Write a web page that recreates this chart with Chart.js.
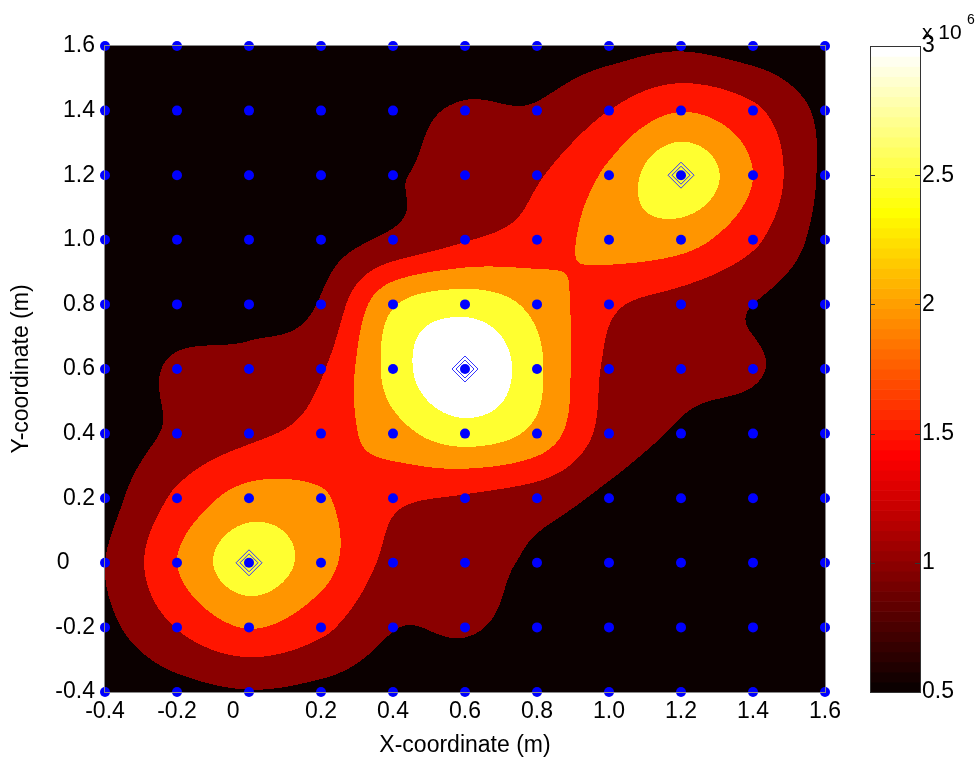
<!DOCTYPE html>
<html>
<head>
<meta charset="utf-8">
<script src="https://cdn.jsdelivr.net/npm/chart.js@4.4.0/dist/chart.umd.min.js"></script>
<style>
  body { margin: 0; background: #fff; }
</style>
</head>
<body>
<canvas id="grafico" width="977" height="762"></canvas>
<script>
// measurement grid (m)
const xCoords = [-0.4, -0.2, 0, 0.2, 0.4, 0.6, 0.8, 1.0, 1.2, 1.4, 1.6];
const yCoords = [1.6, 1.4, 1.2, 1.0, 0.8, 0.6, 0.4, 0.2, 0, -0.2, -0.4];

// field value at each grid point (x 10^6), one row per y, top row first
const fieldRows = [
  [0.55, 0.55, 0.55, 0.60, 0.65, 0.70, 0.75, 0.85, 0.95, 0.80, 0.60],
  [0.55, 0.58, 0.60, 0.65, 0.85, 1.05, 1.05, 1.50, 1.98, 1.60, 0.90],
  [0.55, 0.60, 0.65, 0.75, 0.95, 1.20, 1.45, 2.10, 2.85, 2.00, 0.92],
  [0.58, 0.62, 0.70, 0.80, 1.10, 1.47, 1.72, 2.20, 2.20, 1.60, 0.85],
  [0.60, 0.65, 0.75, 1.05, 2.45, 2.80, 2.35, 1.60, 1.30, 1.00, 0.70],
  [0.55, 1.10, 1.20, 1.45, 2.70, 3.50, 2.60, 1.40, 1.15, 1.05, 0.70],
  [0.70, 1.10, 1.40, 1.70, 2.30, 2.75, 2.35, 1.30, 0.95, 0.80, 0.65],
  [0.85, 1.60, 2.20, 2.05, 1.60, 1.45, 1.25, 0.90, 0.75, 0.70, 0.60],
  [1.00, 2.00, 2.80, 2.20, 1.35, 1.25, 0.90, 0.70, 0.65, 0.60, 0.58],
  [0.90, 1.52, 2.02, 1.62, 1.02, 1.05, 0.80, 0.65, 0.60, 0.58, 0.55],
  [0.60, 0.85, 0.98, 0.90, 0.75, 0.70, 0.60, 0.58, 0.55, 0.55, 0.55]
];

// source locations
const peakX = [0, 0.6, 1.2];
const peakY = [0, 0.6, 1.2];

// filled contour levels and colour limits
const contourLevels = [0.5, 1.0, 1.5, 2.0, 2.5, 3.0];
const colorMin = 0.5;
const colorMax = 3.0;

const xTickLabels = ['-0.4', '-0.2', '0', '0.2', '0.4', '0.6', '0.8', '1.0', '1.2', '1.4', '1.6'];
const yTickLabels = ['-0.4', '-0.2', '0', '0.2', '0.4', '0.6', '0.8', '1.0', '1.2', '1.4', '1.6'];
const cbTickLabels = ['0.5', '1', '1.5', '2', '2.5', '3'];

const FONT = 'Liberation Sans, Arial, Helvetica, sans-serif';

// hot colormap, 64 entries
function hot(i) {
  const clamp = v => Math.max(0, Math.min(1, v));
  const r = clamp(i / 24), g = clamp((i - 24) / 24), b = clamp((i - 48) / 16);
  return [Math.round(r * 255), Math.round(g * 255), Math.round(b * 255)];
}
function colorIndex(v) {
  const t = (v - colorMin) / (colorMax - colorMin);
  return Math.max(1, Math.min(64, Math.floor(t * 63) + 1));
}
const bandColors = contourLevels.map(l => hot(colorIndex(l)));

function cubic(p0, p1, p2, p3, t) {
  return p1 + 0.5 * t * (p2 - p0 + t * (2 * p0 - 5 * p1 + 4 * p2 - p3 + t * (3 * (p1 - p2) + p3 - p0)));
}

function fieldAt(xv, yv) {
  const nx = xCoords.length, ny = yCoords.length;
  const fx = (xv - xCoords[0]) / (xCoords[1] - xCoords[0]);
  const fy = (yv - yCoords[0]) / (yCoords[1] - yCoords[0]);
  const ix = Math.min(Math.max(Math.floor(fx), 0), nx - 2);
  const iy = Math.min(Math.max(Math.floor(fy), 0), ny - 2);
  const tx = fx - ix, ty = fy - iy;
  const cell = (i, j) => fieldRows[Math.min(Math.max(j, 0), ny - 1)][Math.min(Math.max(i, 0), nx - 1)];
  const rows = [];
  for (let j = -1; j <= 2; j++) {
    rows.push(cubic(cell(ix - 1, iy + j), cell(ix, iy + j), cell(ix + 1, iy + j), cell(ix + 2, iy + j), tx));
  }
  return cubic(rows[0], rows[1], rows[2], rows[3], ty);
}

function bandOf(v) {
  let k = 0;
  for (let i = 0; i < contourLevels.length; i++) if (v >= contourLevels[i]) k = i;
  return k;
}

// filled contours behind the markers, axes box on top of them
const contourFill = {
  id: 'contourFill',
  beforeDatasetsDraw(chart) {
    const {ctx, chartArea: a, scales: {x, y}} = chart;
    const left = Math.round(a.left), top = Math.round(a.top);
    const w = Math.round(a.right) - left, h = Math.round(a.bottom) - top;
    const off = document.createElement('canvas');
    off.width = w; off.height = h;
    const octx = off.getContext('2d');
    const img = octx.createImageData(w, h);
    for (let py = 0; py < h; py++) {
      const yv = y.getValueForPixel(top + py + 0.5);
      for (let px = 0; px < w; px++) {
        const xv = x.getValueForPixel(left + px + 0.5);
        const c = bandColors[bandOf(fieldAt(xv, yv))];
        const o = (py * w + px) * 4;
        img.data[o] = c[0]; img.data[o + 1] = c[1]; img.data[o + 2] = c[2]; img.data[o + 3] = 255;
      }
    }
    octx.putImageData(img, 0, 0);
    ctx.drawImage(off, left, top);
  },
  afterDatasetsDraw(chart) {
    const {ctx, chartArea: a} = chart;
    ctx.save();
    ctx.strokeStyle = '#8a8a8a';
    ctx.lineWidth = 1;
    ctx.strokeRect(Math.round(a.left) - 0.5, Math.round(a.top) - 0.5,
      Math.round(a.right - a.left) + 1, Math.round(a.bottom - a.top) + 1);
    ctx.restore();
  }
};

// colour bar on the right
const colorBar = {
  id: 'colorBar',
  afterDraw(chart) {
    const {ctx} = chart;
    const cb = chart.scales.cb;
    const x0 = Math.round(cb.left) + 45, bw = 50;
    const yTop = cb.getPixelForValue(colorMax), yBot = cb.getPixelForValue(colorMin);
    const step = (yBot - yTop) / 64;
    ctx.save();
    for (let i = 1; i <= 64; i++) {
      const c = hot(i);
      ctx.fillStyle = `rgb(${c[0]},${c[1]},${c[2]})`;
      ctx.fillRect(x0, yBot - i * step, bw, step + 0.6);
    }
    ctx.strokeStyle = '#333';
    ctx.lineWidth = 1;
    ctx.strokeRect(x0 + 0.5, Math.round(yTop) + 0.5, bw, Math.round(yBot - yTop));
    ctx.beginPath();
    cbTickLabels.forEach(t => {
      const py = Math.round(cb.getPixelForValue(parseFloat(t))) + 0.5;
      ctx.moveTo(x0, py); ctx.lineTo(x0 + 5, py);
      ctx.moveTo(x0 + bw - 5, py); ctx.lineTo(x0 + bw, py);
    });
    ctx.stroke();
    ctx.fillStyle = '#000';
    ctx.textBaseline = 'alphabetic';
    ctx.font = `21px ${FONT}`;
    ctx.fillText('x 10', x0 + 52, 39);
    ctx.font = `14px ${FONT}`;
    ctx.fillText('6', x0 + 97, 24);
    ctx.restore();
  }
};

const gridPoints = [];
yCoords.forEach(yv => xCoords.forEach(xv => gridPoints.push({x: xv, y: yv})));
const peakPoints = peakX.map((xv, i) => ({x: xv, y: peakY[i]}));

const tickFont = {family: FONT, size: 23};

new Chart(document.getElementById('grafico').getContext('2d'), {
  type: 'scatter',
  data: {
    datasets: [
      {
        data: peakPoints,
        pointStyle: 'rectRot',
        pointRadius: 13,
        backgroundColor: 'rgba(0,0,0,0)',
        borderColor: '#3535ff',
        borderWidth: 1,
        order: 1
      },
      {
        data: peakPoints,
        pointStyle: 'rectRot',
        pointRadius: 9,
        backgroundColor: 'rgba(0,0,0,0)',
        borderColor: '#3535ff',
        borderWidth: 1,
        order: 2
      },
      {
        data: gridPoints,
        pointStyle: 'circle',
        pointRadius: 5,
        backgroundColor: '#0000ff',
        borderWidth: 0,
        order: 3
      }
    ]
  },
  options: {
    responsive: false,
    animation: false,
    events: [],
    clip: false,
    layout: {padding: {top: 46, left: 0, right: 0, bottom: 0}},
    plugins: {legend: {display: false}, tooltip: {enabled: false}},
    scales: {
      x: {
        type: 'linear',
        min: -0.4,
        max: 1.6,
        grid: {display: false, drawTicks: false},
        border: {display: false},
        afterFit: s => { s.height = 70; s.paddingLeft = 0; s.paddingRight = 0; },
        ticks: {
          stepSize: 0.2,
          autoSkip: false,
          maxRotation: 0,
          padding: 6,
          color: '#000',
          font: tickFont,
          callback: (v, i) => xTickLabels[i] === '0' ? '0     ' : xTickLabels[i]
        },
        title: {display: true, text: 'X-coordinate (m)', color: '#000', font: tickFont, padding: {top: 0, bottom: 3}}
      },
      y: {
        type: 'linear',
        min: -0.4,
        max: 1.6,
        grid: {display: false, drawTicks: false},
        border: {display: false},
        afterFit: s => { s.width = 105; s.paddingTop = 0; s.paddingBottom = 0; },
        ticks: {
          stepSize: 0.2,
          autoSkip: false,
          padding: 10,
          color: '#000',
          font: tickFont,
          callback: (v, i) => yTickLabels[i] === '0' ? '0    ' : yTickLabels[i]
        },
        title: {display: true, text: 'Y-coordinate (m)', color: '#000', font: tickFont, padding: {top: 8, bottom: 0}}
      },
      cb: {
        type: 'linear',
        position: 'right',
        min: colorMin,
        max: colorMax,
        grid: {display: false, drawTicks: false},
        border: {display: false},
        afterFit: s => { s.width = 152; s.paddingTop = 0; s.paddingBottom = 0; },
        ticks: {
          stepSize: 0.5,
          autoSkip: false,
          padding: 97,
          color: '#000',
          font: tickFont,
          callback: (v, i) => cbTickLabels[i]
        }
      }
    }
  },
  plugins: [contourFill, colorBar]
});
</script>
</body>
</html>
